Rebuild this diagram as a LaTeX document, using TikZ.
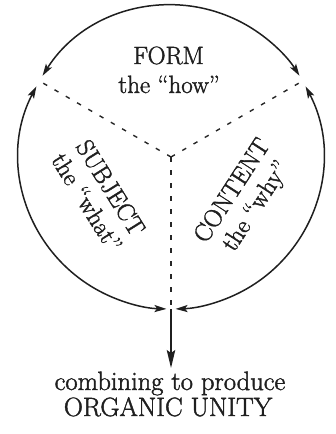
\documentclass[tikz,border=0pt]{standalone}
\usepackage{fontspec}
\setmainfont{Latin Modern Roman}[FakeBold=1.6]
\usetikzlibrary{arrows.meta,calc}
\begin{document}
\begin{tikzpicture}[x=1pt,y=-1pt,
  ink/.style={draw=black!88, line width=1.5pt},
  cyc/.style={ink, {Stealth[length=12pt,width=7pt,inset=2.5pt]}-{Stealth[length=12pt,width=7pt,inset=2.5pt]}},
  spoke/.style={draw=black!85, line width=1.4pt, dash pattern=on 4.5pt off 8.5pt},
  lbl/.style={text=black!88, inner sep=0pt, align=center, font=\fontsize{25}{28}\selectfont},
  bot/.style={text=black!88, inner sep=0pt, font=\fontsize{26.5}{26}\selectfont}]
\useasboundingbox (0,0) rectangle (336,434);
\def\R{152}
\coordinate (O) at (171,157);
\coordinate (UL) at ($(O)+(-131.6,-76)$);
\coordinate (UR) at ($(O)+(131.6,-76)$);
\coordinate (B) at ($(O)+(0,152)$);
\coordinate (E) at (171,368);
% arcs (y axis points down, so angles measured clockwise on screen)
\draw[cyc] ($(O)+({152*cos(147.7)},{-152*sin(147.7)})$) arc[start angle=-147.7, end angle=-32.3, radius=\R];
\draw[cyc] ($(O)+({152*cos(152.3)},{-152*sin(152.3)})$) arc[start angle=-152.3, end angle=-268.3, radius=\R];
\draw[cyc] ($(O)+({152*cos(27.7)},{-152*sin(27.7)})$) arc[start angle=-27.7, end angle=88.3, radius=\R];
% spokes
\draw[spoke] (O) -- (UL);
\draw[spoke] (O) -- (UR);
\draw[spoke] (O) -- (B);
% output arrow
\draw[ink, -{Stealth[length=18pt,width=8.5pt,inset=3pt]}] (B) -- (E);
% labels
\node[lbl, anchor=base] (form) at (168.5,64) {FORM};
\node[lbl, anchor=base] (how) at (169,93) {the ``how''};
\node[lbl, rotate=-58] (subj) at (99,195) {SUBJECT\\the ``what''};
\node[lbl, rotate=57] (cont) at (245,199) {CONTENT\\the ``why''};
\node[bot, anchor=base] (comb) at (170,390) {combining to produce};
\node[bot, anchor=base] (unity) at (168,416) {ORGANIC UNITY};
\end{tikzpicture}
\end{document}
